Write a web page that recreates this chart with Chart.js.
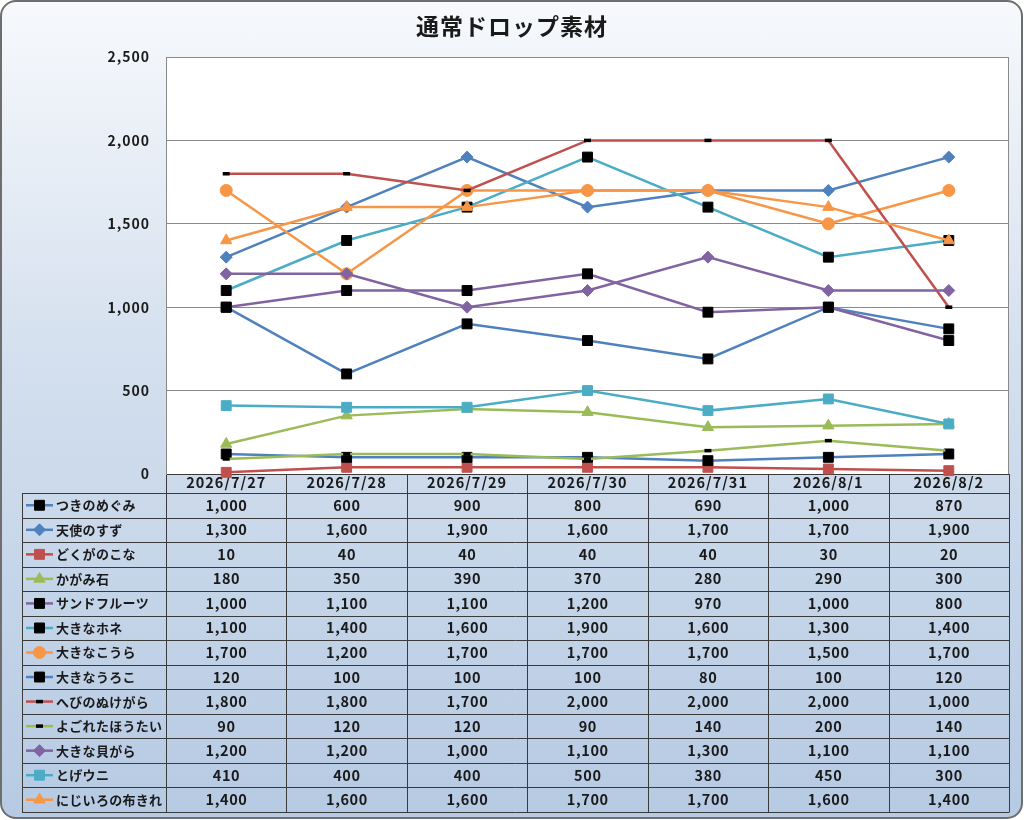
<!DOCTYPE html>
<html lang="ja">
<head>
<meta charset="utf-8">
<title>通常ドロップ素材</title>
<script src="https://cdn.jsdelivr.net/npm/chart.js@4.4.1/dist/chart.umd.min.js"></script>
<style>
  html, body { margin: 0; padding: 0; background: #fff; }
  #frame {
    position: relative;
    width: 1023px;
    height: 819px;
    box-sizing: border-box;
    border: 2px solid #6e6e6e;
    border-radius: 16px;
    background: linear-gradient(#f7f9fc 0%, #d3dfee 45%, #b6cae3 100%);
  }
  #chart { position: absolute; left: -2px; top: -2px; }
</style>
</head>
<body>
<div id="frame">
  <canvas id="chart" width="1024" height="820"></canvas>
</div>
<script>
// categories
const dates = ['2026/7/27', '2026/7/28', '2026/7/29', '2026/7/30', '2026/7/31', '2026/8/1', '2026/8/2'];

// series values, one array per item
const tsukinoMegumi   = [1000, 600, 900, 800, 690, 1000, 870];
const tenshiNoSuzu    = [1300, 1600, 1900, 1600, 1700, 1700, 1900];
const dokugaNoKona    = [10, 40, 40, 40, 40, 30, 20];
const kagamiIshi      = [180, 350, 390, 370, 280, 290, 300];
const sandFruit       = [1000, 1100, 1100, 1200, 970, 1000, 800];
const ookinaHone      = [1100, 1400, 1600, 1900, 1600, 1300, 1400];
const ookinaKoura     = [1700, 1200, 1700, 1700, 1700, 1500, 1700];
const ookinaUroko     = [120, 100, 100, 100, 80, 100, 120];
const hebiNoNukegara  = [1800, 1800, 1700, 2000, 2000, 2000, 1000];
const yogoretaHoutai  = [90, 120, 120, 90, 140, 200, 140];
const ookinaKaigara   = [1200, 1200, 1000, 1100, 1300, 1100, 1100];
const togeUni         = [410, 400, 400, 500, 380, 450, 300];
const nijiiroNunokire = [1400, 1600, 1600, 1700, 1700, 1600, 1400];

// y axis ticks
const yTicks = [0, 500, 1000, 1500, 2000, 2500];

const seriesNames = ['つきのめぐみ', '天使のすず', 'どくがのこな', 'かがみ石', 'サンドフルーツ', '大きなホネ',
  '大きなこうら', '大きなうろこ', 'へびのぬけがら', 'よごれたほうたい', '大きな貝がら', 'とげウニ', 'にじいろの布きれ'];
const seriesValues = [tsukinoMegumi, tenshiNoSuzu, dokugaNoKona, kagamiIshi, sandFruit, ookinaHone,
  ookinaKoura, ookinaUroko, hebiNoNukegara, yogoretaHoutai, ookinaKaigara, togeUni, nijiiroNunokire];

// line colour, marker style, marker colour, marker radius, marker border
const seriesStyles = [
  ['#4f81bd', 'rect',    '#000000', 7,   1],
  ['#4f81bd', 'rectRot', '#4f81bd', 6,   1],
  ['#c0504d', 'rect',    '#c0504d', 7,   1],
  ['#9bbb59', 'triangle','#9bbb59', 6.5, 1],
  ['#8064a2', 'rect',    '#000000', 7,   1],
  ['#4bacc6', 'rect',    '#000000', 7,   1],
  ['#f79646', 'circle',  '#f79646', 6,   1],
  ['#4f81bd', 'rect',    '#000000', 7,   1],
  ['#c0504d', 'line',    '#000000', 3.5, 3.5],
  ['#9bbb59', 'line',    '#000000', 3.5, 3.5],
  ['#8064a2', 'rectRot', '#8064a2', 6,   1],
  ['#4bacc6', 'rect',    '#4bacc6', 7,   1],
  ['#f79646', 'triangle','#f79646', 6.5, 1]
];

const FONT = "'Noto Sans CJK JP', 'Noto Sans', sans-serif";
const fmt = v => v.toLocaleString('en-US');

const datasets = seriesNames.map((name, i) => {
  const [line, style, marker, radius, bw] = seriesStyles[i];
  return {
    label: name,
    data: seriesValues[i],
    borderColor: line,
    borderWidth: 2.5,
    pointStyle: style,
    pointRadius: radius,
    pointBackgroundColor: marker,
    pointBorderColor: marker,
    pointBorderWidth: bw,
    tension: 0,
    clip: false,
    order: seriesNames.length - i
  };
});

// draws the white plot area and the data table under it
const dataTable = {
  id: 'dataTable',
  beforeDraw(chart) {
    const { ctx, chartArea: a, scales: { x } } = chart;
    const n = datasets.length;
    const colW = (a.right - a.left) / dates.length;
    const headBottom = a.bottom + 19;
    const tableBottom = chart.height - 8;
    const tableLeft = 22;
    const rowH = (tableBottom - headBottom) / n;

    ctx.save();
    ctx.fillStyle = '#ffffff';
    ctx.fillRect(a.left, a.top, a.right - a.left, a.bottom - a.top);
    ctx.strokeStyle = '#8a8a8a';
    ctx.lineWidth = 1;
    ctx.strokeRect(a.left + 0.5, a.top + 0.5, a.right - a.left - 1, a.bottom - a.top);

    ctx.strokeStyle = '#3a3a3a';
    ctx.beginPath();
    for (let r = 0; r <= n; r++) {
      const y = Math.round(headBottom + r * rowH) + 0.5;
      ctx.moveTo(tableLeft, y);
      ctx.lineTo(a.right, y);
    }
    ctx.moveTo(tableLeft + 0.5, headBottom);
    ctx.lineTo(tableLeft + 0.5, tableBottom);
    for (let c = 0; c <= dates.length; c++) {
      const xx = Math.round(a.left + c * colW) + 0.5;
      ctx.moveTo(xx, a.bottom);
      ctx.lineTo(xx, Math.round(tableBottom) + 0.5);
    }
    ctx.stroke();

    ctx.textBaseline = 'middle';
    for (let r = 0; r < n; r++) {
      const ds = datasets[r];
      const cy = headBottom + (r + 0.5) * rowH;
      // legend key
      ctx.strokeStyle = ds.borderColor;
      ctx.lineWidth = 2.5;
      ctx.beginPath();
      ctx.moveTo(26, cy);
      ctx.lineTo(53, cy);
      ctx.stroke();
      ctx.fillStyle = ds.pointBackgroundColor;
      ctx.strokeStyle = ds.pointBorderColor;
      ctx.lineWidth = ds.pointBorderWidth;
      Chart.helpers.drawPoint(ctx, {
        pointStyle: ds.pointStyle,
        radius: ds.pointRadius,
        borderWidth: ds.pointBorderWidth,
        rotation: 0
      }, 39.5, cy);

      ctx.fillStyle = '#1a1a1a';
      ctx.font = 'bold 13px ' + FONT;
      ctx.letterSpacing = '0.3px';
      ctx.textAlign = 'left';
      ctx.fillText(ds.label, 56, cy);

      ctx.font = 'bold 14.5px ' + FONT;
      ctx.letterSpacing = '0.6px';
      ctx.textAlign = 'center';
      ds.data.forEach((v, c) => ctx.fillText(fmt(v), x.getPixelForValue(c) + 0.3, cy));
    }
    ctx.restore();
    // wider spacing for the title and axis labels
    ctx.letterSpacing = '1px';
  },
  beforeDatasetsDraw(chart) {
    chart.ctx.letterSpacing = '0px';
  }
};

new Chart(document.getElementById('chart'), {
  type: 'line',
  data: { labels: dates, datasets: datasets },
  options: {
    responsive: false,
    animation: false,
    events: [],
    layout: { padding: { left: 15, right: 15, top: 0, bottom: 0 } },
    plugins: {
      legend: { display: false },
      tooltip: { enabled: false },
      title: {
        display: true,
        text: '通常ドロップ素材',
        color: '#1a1a1a',
        font: { family: FONT, size: 23, weight: 'bold', lineHeight: 1.2 },
        padding: { top: 12.5, bottom: 16.9 }
      }
    },
    scales: {
      x: {
        offset: true,
        grid: { display: false, drawTicks: false },
        border: { display: true, color: '#3a3a3a' },
        ticks: {
          color: '#1a1a1a',
          font: { family: FONT, size: 14.5, weight: 'bold' },
          padding: 0,
          maxRotation: 0,
          autoSkip: false
        },
        afterFit(scale) { scale.height = 346; }
      },
      y: {
        min: yTicks[0],
        max: yTicks[yTicks.length - 1],
        afterBuildTicks(scale) { scale.ticks = yTicks.map(v => ({ value: v })); },
        grid: { color: '#8a8a8a', drawTicks: false },
        border: { display: true, color: '#8a8a8a' },
        ticks: {
          color: '#1a1a1a',
          font: { family: FONT, size: 14, weight: 'bold' },
          padding: 16,
          callback: v => fmt(v)
        },
        afterFit(scale) { scale.width = 151; }
      }
    }
  },
  plugins: [dataTable]
});
</script>
</body>
</html>
